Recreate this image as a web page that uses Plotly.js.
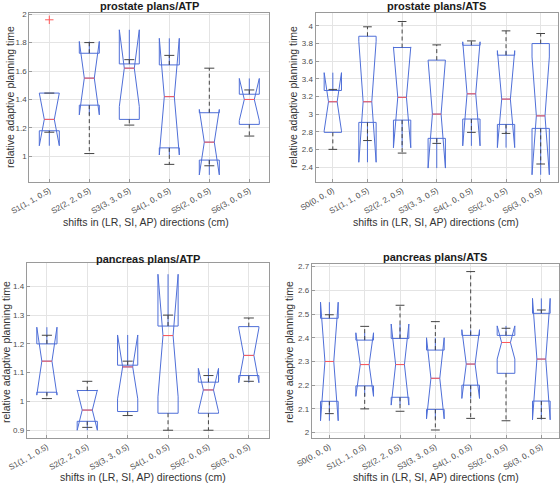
<!DOCTYPE html>
<html><head><meta charset="utf-8">
<script src="https://cdn.plot.ly/plotly-3.0.1.min.js"></script>
<style>html,body{margin:0;padding:0;background:#fff}#chart{width:560px;height:485px}</style>
</head><body><div id="chart"></div>
<script>
// ---------- data ----------
const atpCats = ['S1(1, 1, 0.5)','S2(2, 2, 0.5)','S3(3, 3, 0.5)','S4(1, 0, 0.5)','S5(2, 0, 0.5)','S6(3, 0, 0.5)'];
const atsCats = ['S0(0, 0, 0)','S1(1, 1, 0.5)','S2(2, 2, 0.5)','S3(3, 3, 0.5)','S4(1, 0, 0.5)','S5(2, 0, 0.5)','S6(3, 0, 0.5)'];

// prostate plans / ATP
const prAtpLow   = [1.17, 1.02, 1.22, 0.944, 0.934, 1.143];
const prAtpQ1    = [1.18, 1.36, 1.26, 1.06, 0.974, 1.225];
const prAtpMed   = [1.26, 1.55, 1.62, 1.42, 1.10, 1.40];
const prAtpQ3    = [1.445, 1.725, 1.65, 1.643, 1.307, 1.437];
const prAtpHigh  = [1.445, 1.80, 1.68, 1.71, 1.62, 1.467];
const prAtpNotch = [0.185, 0.258, 0.27, 0.41, 0.23, 0.148];
const prAtpOutIdx = [1];
const prAtpOutVal = [1.96];
const prAtpTicks = [1, 1.2, 1.4, 1.6, 1.8, 2];

// prostate plans / ATS
const prAtsLow   = [2.60, 2.70, 2.558, 2.668, 2.793, 2.781, 2.434];
const prAtsQ1    = [2.793, 2.906, 2.932, 2.725, 2.944, 2.883, 2.838];
const prAtsMed   = [3.14, 3.14, 3.19, 3.0, 3.23, 3.17, 2.98];
const prAtsQ3    = [3.268, 3.883, 3.755, 3.612, 3.781, 3.668, 3.80];
const prAtsHigh  = [3.28, 3.99, 4.05, 3.785, 3.83, 3.944, 3.914];
const prAtsNotch = [0.33, 0.686, 0.572, 0.612, 0.59, 0.55, 0.668];
const prAtsTicks = [2.4, 2.6, 2.8, 3, 3.2, 3.4, 3.6, 3.8, 4];

// pancreas plans / ATP
const paAtpLow   = [1.01, 0.91, 0.951, 0.90, 0.90, 1.07];
const paAtpQ1    = [1.032, 0.931, 0.965, 0.959, 0.959, 1.09];
const paAtpMed   = [1.14, 0.97, 1.12, 1.229, 1.04, 1.16];
const paAtpQ3    = [1.20, 1.038, 1.126, 1.262, 1.067, 1.26];
const paAtpHigh  = [1.23, 1.07, 1.14, 1.30, 1.09, 1.29];
const paAtpNotch = [0.118, 0.07, 0.111, 0.213, 0.075, 0.095];
const paAtpTicks = [0.9, 1, 1.1, 1.2, 1.3, 1.4];

// pancreas plans / ATS
const paAtsLow   = [2.08, 2.10, 2.09, 2.011, 2.06, 2.05, 2.06];
const paAtsQ1    = [2.132, 2.197, 2.149, 2.098, 2.20, 2.25, 2.133];
const paAtsMed   = [2.30, 2.287, 2.287, 2.229, 2.289, 2.38, 2.31];
const paAtsQ3    = [2.482, 2.39, 2.397, 2.348, 2.41, 2.41, 2.503];
const paAtsHigh  = [2.497, 2.448, 2.537, 2.468, 2.679, 2.44, 2.517];
const paAtsNotch = [0.25, 0.134, 0.171, 0.171, 0.145, 0.07, 0.256];
const paAtsTicks = [2, 2.1, 2.2, 2.3, 2.4, 2.5, 2.6, 2.7];

const panelTitles = ['prostate plans/ATP', 'prostate plans/ATS', 'pancreas plans/ATP', 'pancreas plans/ATS'];
const xTitle = 'shifts in (LR, SI, AP) directions (cm)';
const yTitle = 'relative adaptive planning time';

// ---------- style ----------
const BLUE = '#4f6fd8';
const RED = '#ff5a5a';
const WHISK = '#444444';
const BOXW = 0.5, NOTCHW = 0.25;
const FONT = 'Liberation Sans, Arial, Helvetica, sans-serif';

function panel(k, cats, low, q1, med, q3, high, notch, outIdx, outVal) {
  const xa = k === 1 ? 'x' : 'x' + k, ya = k === 1 ? 'y' : 'y' + k;
  const pos = cats.map((c, i) => i + 1);
  const tr = [];
  tr.push({type: 'box', x: pos, q1: q1, median: med, q3: q3, lowerfence: q1, upperfence: q3,
    notchspan: notch, notched: true, notchwidth: NOTCHW, width: BOXW, whiskerwidth: 0,
    boxpoints: false, line: {color: BLUE, width: 1}, fillcolor: 'rgba(0,0,0,0)',
    xaxis: xa, yaxis: ya, hoverinfo: 'skip'});
  const wx = [], wy = [], cx = [], cy = [], mx = [], my = [];
  const cw = BOXW / 4, mw = BOXW / 2 * (1 - 2 * NOTCHW);
  pos.forEach((p, i) => {
    wx.push(p, p, null, p, p, null); wy.push(q3[i], high[i], null, q1[i], low[i], null);
    cx.push(p - cw, p + cw, null, p - cw, p + cw, null); cy.push(high[i], high[i], null, low[i], low[i], null);
    mx.push(p - mw, p + mw, null); my.push(med[i], med[i], null);
  });
  tr.push({type: 'scatter', mode: 'lines', x: wx, y: wy, line: {color: WHISK, width: 1, dash: '4px,3px'}, xaxis: xa, yaxis: ya, hoverinfo: 'skip', connectgaps: false});
  tr.push({type: 'scatter', mode: 'lines', x: cx, y: cy, line: {color: WHISK, width: 1}, xaxis: xa, yaxis: ya, hoverinfo: 'skip', connectgaps: false});
  tr.push({type: 'scatter', mode: 'lines', x: mx, y: my, line: {color: RED, width: 1}, xaxis: xa, yaxis: ya, hoverinfo: 'skip', connectgaps: false});
  if (outIdx && outIdx.length) {
    tr.push({type: 'scatter', mode: 'markers', x: outIdx, y: outVal, marker: {symbol: 'cross-thin-open', size: 6, color: RED, line: {color: RED, width: 1}}, xaxis: xa, yaxis: ya, hoverinfo: 'skip'});
  }
  return tr;
}

const data = [].concat(
  panel(1, atpCats, prAtpLow, prAtpQ1, prAtpMed, prAtpQ3, prAtpHigh, prAtpNotch, prAtpOutIdx, prAtpOutVal),
  panel(2, atsCats, prAtsLow, prAtsQ1, prAtsMed, prAtsQ3, prAtsHigh, prAtsNotch),
  panel(3, atpCats, paAtpLow, paAtpQ1, paAtpMed, paAtpQ3, paAtpHigh, paAtpNotch),
  panel(4, atsCats, paAtsLow, paAtsQ1, paAtsMed, paAtsQ3, paAtsHigh, paAtsNotch)
);

function xAxis(dom, cats, anchor) {
  return {domain: dom, anchor: anchor, range: [0.5, cats.length + 0.5],
    tickvals: cats.map((c, i) => i + 1), ticktext: cats, tickangle: -30,
    tickfont: {size: 8, color: '#4d4d4d', family: FONT},
    showgrid: true, gridcolor: '#e4e4e4', gridwidth: 1, zeroline: false,
    showline: true, mirror: true, linecolor: '#9a9a9a', linewidth: 1,
    ticks: 'inside', ticklen: 3, tickcolor: '#9a9a9a', fixedrange: true};
}
function yAxis(dom, ticks, range, anchor) {
  return {domain: dom, anchor: anchor, range: range, tickvals: ticks, ticktext: ticks.map(String),
    tickfont: {size: 8, color: '#4d4d4d', family: FONT},
    showgrid: true, gridcolor: '#e4e4e4', gridwidth: 1, zeroline: false,
    showline: true, mirror: true, linecolor: '#9a9a9a', linewidth: 1,
    ticks: 'inside', ticklen: 3, tickcolor: '#9a9a9a', fixedrange: true};
}

const W = 560, H = 485;
const px = v => v / W, py = v => 1 - v / H;

const layout = {
  width: W, height: H, margin: {l: 0, r: 0, t: 0, b: 0},
  paper_bgcolor: '#fff', plot_bgcolor: '#fff', showlegend: false, hovermode: false,
  font: {family: FONT},
  xaxis:  xAxis([px(29.3), px(269.3)], atpCats, 'y'),
  yaxis:  yAxis([py(182), py(12.7)], prAtpTicks, [0.82, 2.01], 'x'),
  xaxis2: xAxis([px(315.5), px(558)], atsCats, 'y2'),
  yaxis2: yAxis([py(182), py(12.7)], prAtsTicks, [2.23, 4.15], 'x2'),
  xaxis3: xAxis([px(26.7), px(269)], atpCats, 'y3'),
  yaxis3: yAxis([py(438.3), py(263.3)], paAtpTicks, [0.872, 1.48], 'x3'),
  xaxis4: xAxis([px(311.7), px(559)], atsCats, 'y4'),
  yaxis4: yAxis([py(438.3), py(264)], paAtsTicks, [1.976, 2.711], 'x4'),
  annotations: []
};

const titlePos = [[149, 6], [436, 6], [148, 259], [435, 257]];
const xtPos = [[146, 222], [436, 222], [143, 477], [436, 477]];
const ytPos = [[10, 97], [293, 97], [6, 352], [289, 352]];
panelTitles.forEach((t, i) => {
  layout.annotations.push({text: '<b>' + t + '</b>', xref: 'paper', yref: 'paper',
    x: px(titlePos[i][0]), y: py(titlePos[i][1]), xanchor: 'center', yanchor: 'middle',
    showarrow: false, font: {size: 11, color: '#1a1a1a', family: FONT}});
  layout.annotations.push({text: xTitle, xref: 'paper', yref: 'paper',
    x: px(xtPos[i][0]), y: py(xtPos[i][1]), xanchor: 'center', yanchor: 'middle',
    showarrow: false, font: {size: 10.5, color: '#333', family: FONT}});
  layout.annotations.push({text: yTitle, xref: 'paper', yref: 'paper', textangle: -90,
    x: px(ytPos[i][0]), y: py(ytPos[i][1]), xanchor: 'center', yanchor: 'middle',
    showarrow: false, font: {size: 10.5, color: '#333', family: FONT}});
});

Plotly.newPlot('chart', data, layout, {displayModeBar: false, staticPlot: true});
</script>
</body></html>
